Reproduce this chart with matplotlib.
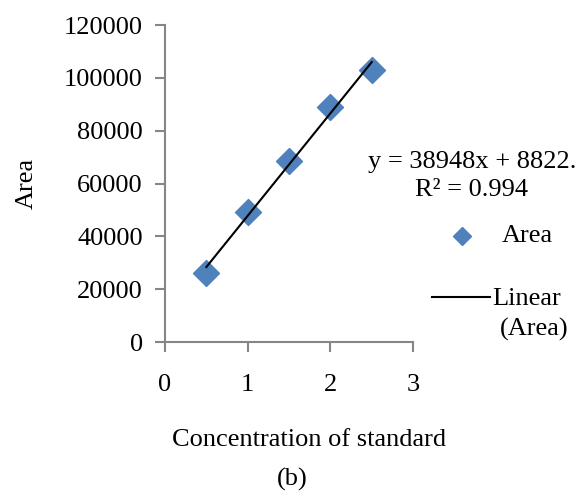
import numpy as np
import matplotlib.pyplot as plt
from matplotlib.lines import Line2D

plt.rcParams['font.family'] = ['Liberation Serif', 'DejaVu Serif']

# data
conc = [0.5, 1.0, 1.5, 2.0, 2.5]
area = [26000, 49300, 68700, 89100, 103100]
eq_text = "y = 38948x + 8822.\nR² = 0.994"
caption = "(b)"

x_ = np.array(conc)
y_ = np.array(area)
a_1, a_0 = np.polyfit(x_, y_, 1)

fs = 19
blue = "#4F81BD"
fig = plt.figure(figsize=(5.77, 4.93), dpi=100)
ax = fig.add_axes([0.286, 0.306, 0.430, 0.643])

ax.scatter(x_, y_, marker="D", s=175, color=blue, zorder=2)
ax.plot([x_.min(), x_.max()], [a_0 + a_1 * x_.min(), a_0 + a_1 * x_.max()],
        color="black", lw=1.5, zorder=3)

ax.set_xlim(0, 3)
ax.set_ylim(0, 120000)
ax.set_xticks([0, 1, 2, 3])
ax.set_yticks(np.arange(0, 120001, 20000))

for side in ["top", "right"]:
    ax.spines[side].set_visible(False)
for side in ["left", "bottom"]:
    ax.spines[side].set_color("#868686")
    ax.spines[side].set_linewidth(1.5)
ax.tick_params(direction="out", length=7, width=1.5, color="#868686",
               labelsize=fs)
ax.tick_params(axis="x", pad=16)
ax.tick_params(axis="y", pad=9)

ax.set_xlabel("Concentration of standard", fontsize=fs, labelpad=24)
ax.xaxis.label.set_x(0.58)
ax.set_ylabel("Area", fontsize=fs, labelpad=19)

fig.text(0.818, 0.643, eq_text, fontsize=fs, ha="center", va="center",
         linespacing=1.4)
fig.text(0.506, 0.028, caption, fontsize=fs, ha="center", va="center")

# legend, laid out by hand
fig.add_artist(Line2D([0.801], [0.521], marker="D", ms=9, color=blue, lw=0,
                      transform=fig.transFigure))
fig.text(0.870, 0.521, "Area", fontsize=fs, ha="left", va="center")
fig.add_artist(Line2D([0.749, 0.849], [0.398, 0.398], color="black", lw=1.5,
                      transform=fig.transFigure))
fig.text(0.853, 0.393, "Linear", fontsize=fs, ha="left", va="center")
fig.text(0.867, 0.331, "(Area)", fontsize=fs, ha="left", va="center")

fig.savefig("out.png", dpi=100)
